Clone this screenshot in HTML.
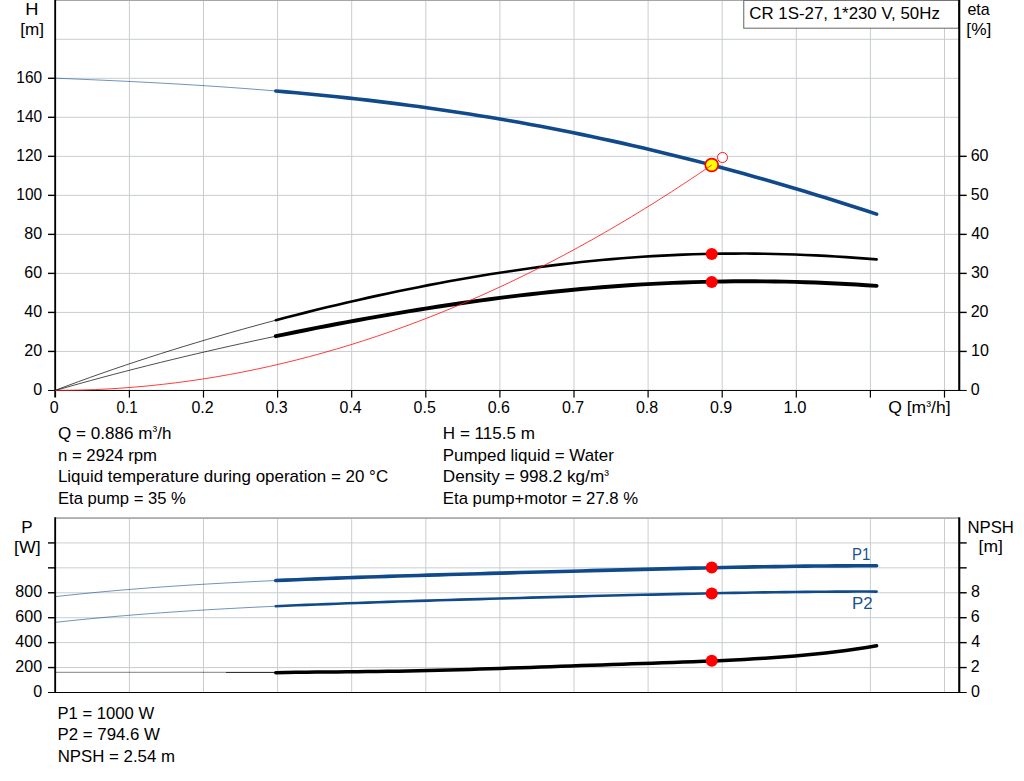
<!DOCTYPE html>
<html><head><meta charset="utf-8"><title>CR 1S-27 pump curve</title>
<style>
html,body{margin:0;padding:0;background:#fff;overflow:hidden}
svg{display:block}
text{font-family:"Liberation Sans",sans-serif;white-space:pre}
</style></head><body>
<svg width="1024" height="781" viewBox="0 0 1024 781" font-family="Liberation Sans, sans-serif" font-size="17" fill="#000">
<rect width="1024" height="781" fill="#fff"/>
<path d="M129.40,1 V390 M203.50,1 V390 M277.60,1 V390 M351.70,1 V390 M425.80,1 V390 M499.90,1 V390 M574.00,1 V390 M648.10,1 V390 M722.20,1 V390 M796.30,1 V390 M870.40,1 V390 M944.50,1 V390" stroke="#c9cdd0" stroke-width="1" fill="none"/>
<path d="M56,351.43 H958.5 M56,312.41 H958.5 M56,273.39 H958.5 M56,234.37 H958.5 M56,195.35 H958.5 M56,156.33 H958.5 M56,117.31 H958.5 M56,78.29 H958.5 M56,39.27 H958.5" stroke="#c9cdd0" stroke-width="1" fill="none"/>
<rect x="55" y="0" width="904" height="0.9" fill="#9c9c9c"/>
<path d="M129.40,519 V692 M203.50,519 V692 M277.60,519 V692 M351.70,519 V692 M425.80,519 V692 M499.90,519 V692 M574.00,519 V692 M648.10,519 V692 M722.20,519 V692 M796.30,519 V692 M870.40,519 V692 M944.50,519 V692" stroke="#c9cdd0" stroke-width="1" fill="none"/>
<path d="M56,667.57 H958.5 M56,642.64 H958.5 M56,617.71 H958.5 M56,592.78 H958.5 M56,567.85 H958.5 M56,542.92 H958.5" stroke="#c9cdd0" stroke-width="1" fill="none"/>
<rect x="55" y="517.3" width="904" height="1.5" fill="#9a9c9e"/>
<path d="M55.20,78.19 L66.90,78.67 L78.60,79.15 L90.30,79.66 L102.00,80.18 L113.70,80.71 L125.40,81.27 L137.10,81.85 L148.80,82.45 L160.50,83.08 L172.20,83.73 L183.90,84.42 L195.60,85.13 L207.30,85.88 L219.00,86.66 L230.70,87.48 L242.40,88.34 L254.10,89.23 L265.80,90.16 L277.50,91.14" stroke="#114a8b" stroke-width="0.6" fill="none"/>
<path d="M275.80,91.00 L285.98,91.87 L296.16,92.79 L306.34,93.73 L316.53,94.71 L326.71,95.73 L336.89,96.78 L347.08,97.87 L357.26,99.00 L367.44,100.16 L377.63,101.36 L387.81,102.61 L397.99,103.89 L408.18,105.22 L418.36,106.58 L428.54,107.99 L438.73,109.44 L448.91,110.93 L459.09,112.47 L469.27,114.05 L479.46,115.67 L489.64,117.33 L499.82,119.05 L510.01,120.80 L520.19,122.60 L530.37,124.45 L540.56,126.34 L550.74,128.28 L560.92,130.26 L571.11,132.29 L581.29,134.37 L591.47,136.49 L601.65,138.66 L611.84,140.87 L622.02,143.13 L632.20,145.44 L642.39,147.79 L652.57,150.19 L662.75,152.63 L672.94,155.13 L683.12,157.66 L693.30,160.24 L703.49,162.87 L713.67,165.54 L723.85,168.26 L734.04,171.02 L744.22,173.82 L754.40,176.67 L764.58,179.56 L774.77,182.50 L784.95,185.48 L795.13,188.50 L805.32,191.56 L815.50,194.66 L825.68,197.80 L835.87,200.99 L846.05,204.21 L856.23,207.47 L866.42,210.77 L876.60,214.11" stroke="#114a8b" stroke-width="3.6" fill="none" stroke-linecap="round"/>
<path d="M55.20,390.34 L66.90,385.92 L78.60,381.60 L90.30,377.37 L102.00,373.22 L113.70,369.16 L125.40,365.18 L137.10,361.28 L148.80,357.46 L160.50,353.70 L172.20,350.02 L183.90,346.40 L195.60,342.86 L207.30,339.37 L219.00,335.95 L230.70,332.60 L242.40,329.30 L254.10,326.07 L265.80,322.89 L277.50,319.78" stroke="#000" stroke-width="0.7" fill="none"/>
<path d="M275.80,320.23 L285.98,317.56 L296.16,314.94 L306.34,312.37 L316.53,309.84 L326.71,307.35 L336.89,304.91 L347.08,302.52 L357.26,300.18 L367.44,297.88 L377.63,295.64 L387.81,293.44 L397.99,291.29 L408.18,289.19 L418.36,287.15 L428.54,285.15 L438.73,283.21 L448.91,281.32 L459.09,279.49 L469.27,277.71 L479.46,275.99 L489.64,274.32 L499.82,272.72 L510.01,271.17 L520.19,269.68 L530.37,268.25 L540.56,266.89 L550.74,265.59 L560.92,264.35 L571.11,263.17 L581.29,262.06 L591.47,261.02 L601.65,260.04 L611.84,259.13 L622.02,258.29 L632.20,257.51 L642.39,256.80 L652.57,256.17 L662.75,255.60 L672.94,255.10 L683.12,254.67 L693.30,254.31 L703.49,254.03 L713.67,253.81 L723.85,253.66 L734.04,253.58 L744.22,253.57 L754.40,253.63 L764.58,253.76 L774.77,253.96 L784.95,254.22 L795.13,254.55 L805.32,254.94 L815.50,255.40 L825.68,255.92 L835.87,256.50 L846.05,257.14 L856.23,257.84 L866.42,258.59 L876.60,259.40" stroke="#000" stroke-width="2.6" fill="none" stroke-linecap="round"/>
<path d="M55.20,390.53 L66.90,387.18 L78.60,383.88 L90.30,380.65 L102.00,377.48 L113.70,374.37 L125.40,371.31 L137.10,368.30 L148.80,365.34 L160.50,362.43 L172.20,359.57 L183.90,356.76 L195.60,353.99 L207.30,351.27 L219.00,348.59 L230.70,345.96 L242.40,343.37 L254.10,340.82 L265.80,338.32 L277.50,335.86" stroke="#000" stroke-width="0.7" fill="none"/>
<path d="M275.80,336.21 L285.98,334.10 L296.16,332.02 L306.34,329.98 L316.53,327.96 L326.71,325.98 L336.89,324.04 L347.08,322.13 L357.26,320.25 L367.44,318.41 L377.63,316.60 L387.81,314.83 L397.99,313.10 L408.18,311.40 L418.36,309.74 L428.54,308.12 L438.73,306.54 L448.91,305.00 L459.09,303.50 L469.27,302.05 L479.46,300.63 L489.64,299.26 L499.82,297.93 L510.01,296.65 L520.19,295.41 L530.37,294.22 L540.56,293.08 L550.74,291.98 L560.92,290.94 L571.11,289.94 L581.29,288.99 L591.47,288.10 L601.65,287.26 L611.84,286.47 L622.02,285.73 L632.20,285.05 L642.39,284.42 L652.57,283.85 L662.75,283.33 L672.94,282.87 L683.12,282.47 L693.30,282.12 L703.49,281.83 L713.67,281.60 L723.85,281.43 L734.04,281.32 L744.22,281.26 L754.40,281.27 L764.58,281.33 L774.77,281.46 L784.95,281.64 L795.13,281.88 L805.32,282.18 L815.50,282.54 L825.68,282.96 L835.87,283.43 L846.05,283.97 L856.23,284.56 L866.42,285.20 L876.60,285.90" stroke="#000" stroke-width="3.9" fill="none" stroke-linecap="round"/>
<path d="M55.20,596.66 L66.90,595.36 L78.60,594.12 L90.30,592.95 L102.00,591.83 L113.70,590.78 L125.40,589.77 L137.10,588.82 L148.80,587.91 L160.50,587.06 L172.20,586.24 L183.90,585.47 L195.60,584.73 L207.30,584.03 L219.00,583.36 L230.70,582.73 L242.40,582.13 L254.10,581.55 L265.80,581.00 L277.50,580.47" stroke="#114a8b" stroke-width="0.6" fill="none"/>
<path d="M275.80,580.55 L285.98,580.11 L296.16,579.68 L306.34,579.27 L316.53,578.87 L326.71,578.48 L336.89,578.11 L347.08,577.75 L357.26,577.39 L367.44,577.05 L377.63,576.71 L387.81,576.39 L397.99,576.07 L408.18,575.75 L418.36,575.44 L428.54,575.14 L438.73,574.84 L448.91,574.54 L459.09,574.25 L469.27,573.96 L479.46,573.68 L489.64,573.39 L499.82,573.11 L510.01,572.83 L520.19,572.56 L530.37,572.28 L540.56,572.01 L550.74,571.74 L560.92,571.47 L571.11,571.20 L581.29,570.93 L591.47,570.66 L601.65,570.40 L611.84,570.14 L622.02,569.88 L632.20,569.62 L642.39,569.37 L652.57,569.12 L662.75,568.88 L672.94,568.63 L683.12,568.40 L693.30,568.17 L703.49,567.94 L713.67,567.72 L723.85,567.51 L734.04,567.30 L744.22,567.11 L754.40,566.92 L764.58,566.75 L774.77,566.58 L784.95,566.43 L795.13,566.29 L805.32,566.17 L815.50,566.06 L825.68,565.97 L835.87,565.89 L846.05,565.84 L856.23,565.80 L866.42,565.79 L876.60,565.79" stroke="#114a8b" stroke-width="3.6" fill="none" stroke-linecap="round"/>
<path d="M55.20,622.36 L66.90,621.09 L78.60,619.87 L90.30,618.72 L102.00,617.62 L113.70,616.57 L125.40,615.58 L137.10,614.63 L148.80,613.72 L160.50,612.86 L172.20,612.04 L183.90,611.26 L195.60,610.51 L207.30,609.80 L219.00,609.12 L230.70,608.47 L242.40,607.85 L254.10,607.26 L265.80,606.69 L277.50,606.15" stroke="#114a8b" stroke-width="0.6" fill="none"/>
<path d="M275.80,606.23 L285.98,605.77 L296.16,605.32 L306.34,604.89 L316.53,604.48 L326.71,604.08 L336.89,603.69 L347.08,603.31 L357.26,602.94 L367.44,602.58 L377.63,602.23 L387.81,601.89 L397.99,601.55 L408.18,601.22 L418.36,600.90 L428.54,600.59 L438.73,600.28 L448.91,599.97 L459.09,599.67 L469.27,599.37 L479.46,599.08 L489.64,598.79 L499.82,598.51 L510.01,598.23 L520.19,597.95 L530.37,597.67 L540.56,597.40 L550.74,597.13 L560.92,596.86 L571.11,596.59 L581.29,596.33 L591.47,596.07 L601.65,595.81 L611.84,595.56 L622.02,595.31 L632.20,595.06 L642.39,594.82 L652.57,594.58 L662.75,594.35 L672.94,594.12 L683.12,593.90 L693.30,593.68 L703.49,593.47 L713.67,593.27 L723.85,593.07 L734.04,592.88 L744.22,592.71 L754.40,592.54 L764.58,592.38 L774.77,592.23 L784.95,592.10 L795.13,591.97 L805.32,591.87 L815.50,591.77 L825.68,591.69 L835.87,591.63 L846.05,591.59 L856.23,591.57 L866.42,591.56 L876.60,591.58" stroke="#114a8b" stroke-width="2.6" fill="none" stroke-linecap="round"/>
<path d="M56,672.3 H226" stroke="#000" stroke-width="0.5" fill="none"/>
<path d="M226,672.4 H277" stroke="#000" stroke-width="0.9" fill="none"/>
<path d="M275.80,672.74 L285.98,672.52 L296.16,672.35 L306.34,672.22 L316.53,672.10 L326.71,672.01 L336.89,671.92 L347.08,671.82 L357.26,671.72 L367.44,671.61 L377.63,671.48 L387.81,671.34 L397.99,671.17 L408.18,670.98 L418.36,670.78 L428.54,670.55 L438.73,670.30 L448.91,670.03 L459.09,669.74 L469.27,669.44 L479.46,669.12 L489.64,668.79 L499.82,668.45 L510.01,668.11 L520.19,667.75 L530.37,667.40 L540.56,667.04 L550.74,666.67 L560.92,666.32 L571.11,665.96 L581.29,665.60 L591.47,665.25 L601.65,664.90 L611.84,664.55 L622.02,664.21 L632.20,663.87 L642.39,663.52 L652.57,663.18 L662.75,662.83 L672.94,662.47 L683.12,662.10 L693.30,661.71 L703.49,661.31 L713.67,660.88 L723.85,660.43 L734.04,659.94 L744.22,659.41 L754.40,658.83 L764.58,658.20 L774.77,657.51 L784.95,656.76 L795.13,655.93 L805.32,655.02 L815.50,654.02 L825.68,652.93 L835.87,651.74 L846.05,650.44 L856.23,649.02 L866.42,647.47 L876.60,645.80" stroke="#000" stroke-width="3.5" fill="none" stroke-linecap="round"/>
<rect x="743.75" y="0.4" width="215" height="27.8" fill="#fff" stroke="#6c6c6c" stroke-width="1.05"/>
<g fill="#000">
<rect x="54.25" y="0" width="1.85" height="390.95"/>
<rect x="958.2" y="0" width="2.1" height="390.95"/>
<rect x="48" y="389.95" width="918.70" height="1"/>
<rect x="48" y="350.73" width="7" height="1.4"/>
<rect x="48" y="311.71" width="7" height="1.4"/>
<rect x="48" y="272.69" width="7" height="1.4"/>
<rect x="48" y="233.67" width="7" height="1.4"/>
<rect x="48" y="194.65" width="7" height="1.4"/>
<rect x="48" y="155.63" width="7" height="1.4"/>
<rect x="48" y="116.61" width="7" height="1.4"/>
<rect x="48" y="77.59" width="7" height="1.4"/>
<rect x="959.8000000000001" y="350.73" width="6.9" height="1.4"/>
<rect x="959.8000000000001" y="311.71" width="6.9" height="1.4"/>
<rect x="959.8000000000001" y="272.69" width="6.9" height="1.4"/>
<rect x="959.8000000000001" y="233.67" width="6.9" height="1.4"/>
<rect x="959.8000000000001" y="194.65" width="6.9" height="1.4"/>
<rect x="959.8000000000001" y="155.63" width="6.9" height="1.4"/>
<rect x="54.25" y="390.5" width="1.85" height="7"/>
<rect x="128.80" y="390.5" width="1.2" height="7.1"/>
<rect x="202.90" y="390.5" width="1.2" height="7.1"/>
<rect x="277.00" y="390.5" width="1.2" height="7.1"/>
<rect x="351.10" y="390.5" width="1.2" height="7.1"/>
<rect x="425.20" y="390.5" width="1.2" height="7.1"/>
<rect x="499.30" y="390.5" width="1.2" height="7.1"/>
<rect x="573.40" y="390.5" width="1.2" height="7.1"/>
<rect x="647.50" y="390.5" width="1.2" height="7.1"/>
<rect x="721.60" y="390.5" width="1.2" height="7.1"/>
<rect x="795.70" y="390.5" width="1.2" height="7.1"/>
<rect x="869.80" y="390.5" width="1.2" height="7.1"/>
<rect x="943.90" y="390.5" width="1.2" height="7.1"/>
</g>
<g fill="#000">
<rect x="54.25" y="517.3" width="1.85" height="175.7"/>
<rect x="958.2" y="517.3" width="2.1" height="175.7"/>
<rect x="48" y="692.00" width="918.70" height="1"/>
<rect x="48" y="666.87" width="7" height="1.4"/>
<rect x="48" y="641.94" width="7" height="1.4"/>
<rect x="48" y="617.01" width="7" height="1.4"/>
<rect x="48" y="592.08" width="7" height="1.4"/>
<rect x="48" y="567.15" width="7" height="1.4"/>
<rect x="48" y="542.22" width="7" height="1.4"/>
<rect x="959.8000000000001" y="666.87" width="6.9" height="1.4"/>
<rect x="959.8000000000001" y="641.94" width="6.9" height="1.4"/>
<rect x="959.8000000000001" y="617.01" width="6.9" height="1.4"/>
<rect x="959.8000000000001" y="592.08" width="6.9" height="1.4"/>
<rect x="959.8000000000001" y="567.15" width="6.9" height="1.4"/>
<rect x="959.8000000000001" y="542.22" width="6.9" height="1.4"/>
</g>
<circle cx="722.5" cy="157.5" r="5" fill="#fff" stroke="#ff0808" stroke-width="0.95"/>
<circle cx="711.73" cy="165" r="6.45" fill="#ffff00" stroke="#ff0000" stroke-width="1.7"/>
<path d="M55.20,390.40 L68.60,390.31 L82.00,390.02 L95.40,389.56 L108.79,388.90 L122.19,388.05 L135.59,387.02 L148.99,385.80 L162.39,384.39 L175.79,382.80 L189.18,381.01 L202.58,379.04 L215.98,376.88 L229.38,374.54 L242.78,372.00 L256.18,369.28 L269.58,366.37 L282.97,363.27 L296.37,359.98 L309.77,356.51 L323.17,352.85 L336.57,349.00 L349.97,344.97 L363.37,340.74 L376.76,336.33 L390.16,331.73 L403.56,326.94 L416.96,321.97 L430.36,316.80 L443.76,311.45 L457.15,305.91 L470.55,300.19 L483.95,294.27 L497.35,288.17 L510.75,281.88 L524.15,275.40 L537.55,268.74 L550.94,261.89 L564.34,254.85 L577.74,247.62 L591.14,240.20 L604.54,232.60 L617.94,224.81 L631.34,216.83 L644.73,208.66 L658.13,200.31 L671.53,191.76 L684.93,183.03 L698.33,174.11 L711.73,165.01" stroke="#ff1a1a" stroke-width="0.85" fill="none"/>
<circle cx="711.73" cy="254" r="6" fill="#ff0000"/>
<circle cx="711.73" cy="282" r="6" fill="#ff0000"/>
<circle cx="711.73" cy="567.6" r="6" fill="#ff0000"/>
<circle cx="711.73" cy="593.4" r="6" fill="#ff0000"/>
<circle cx="711.73" cy="660.75" r="6" fill="#ff0000"/>
<text x="749.35" y="19" textLength="190.48" lengthAdjust="spacingAndGlyphs">CR 1S-27, 1*230 V, 50Hz</text>
<text x="25.20" y="15" textLength="13.19" lengthAdjust="spacingAndGlyphs">H</text>
<text x="20.33" y="35" textLength="23.68" lengthAdjust="spacingAndGlyphs">[m]</text>
<text x="33.19" y="395.1" textLength="8.93" lengthAdjust="spacingAndGlyphs">0</text>
<text x="24.26" y="356.1" textLength="17.87" lengthAdjust="spacingAndGlyphs">20</text>
<text x="24.26" y="317.1" textLength="17.87" lengthAdjust="spacingAndGlyphs">40</text>
<text x="24.26" y="278.1" textLength="17.87" lengthAdjust="spacingAndGlyphs">60</text>
<text x="24.26" y="239.1" textLength="17.87" lengthAdjust="spacingAndGlyphs">80</text>
<text x="16.37" y="200.0" textLength="25.73" lengthAdjust="spacingAndGlyphs">100</text>
<text x="16.37" y="161.0" textLength="25.73" lengthAdjust="spacingAndGlyphs">120</text>
<text x="16.37" y="122.0" textLength="25.73" lengthAdjust="spacingAndGlyphs">140</text>
<text x="16.37" y="83.0" textLength="25.73" lengthAdjust="spacingAndGlyphs">160</text>
<text x="967.42" y="15" textLength="22.38" lengthAdjust="spacingAndGlyphs">eta</text>
<text x="966.37" y="35" textLength="24.96" lengthAdjust="spacingAndGlyphs">[%]</text>
<text x="970.87" y="395.1" textLength="8.93" lengthAdjust="spacingAndGlyphs">0</text>
<text x="970.98" y="356.1" textLength="17.87" lengthAdjust="spacingAndGlyphs">10</text>
<text x="970.69" y="317.1" textLength="17.87" lengthAdjust="spacingAndGlyphs">20</text>
<text x="970.89" y="278.1" textLength="17.87" lengthAdjust="spacingAndGlyphs">30</text>
<text x="971.13" y="239.1" textLength="17.87" lengthAdjust="spacingAndGlyphs">40</text>
<text x="970.86" y="200.0" textLength="17.87" lengthAdjust="spacingAndGlyphs">50</text>
<text x="970.68" y="161.0" textLength="17.87" lengthAdjust="spacingAndGlyphs">60</text>
<text x="49.76" y="413" textLength="8.89" lengthAdjust="spacingAndGlyphs">0</text>
<text x="116.51" y="413" textLength="21.14" lengthAdjust="spacingAndGlyphs">0.1</text>
<text x="191.38" y="413" textLength="22.21" lengthAdjust="spacingAndGlyphs">0.2</text>
<text x="265.43" y="413" textLength="22.21" lengthAdjust="spacingAndGlyphs">0.3</text>
<text x="339.41" y="413" textLength="22.21" lengthAdjust="spacingAndGlyphs">0.4</text>
<text x="413.62" y="413" textLength="22.21" lengthAdjust="spacingAndGlyphs">0.5</text>
<text x="487.73" y="413" textLength="22.21" lengthAdjust="spacingAndGlyphs">0.6</text>
<text x="561.88" y="413" textLength="22.21" lengthAdjust="spacingAndGlyphs">0.7</text>
<text x="635.93" y="413" textLength="22.21" lengthAdjust="spacingAndGlyphs">0.8</text>
<text x="710.06" y="413" textLength="22.21" lengthAdjust="spacingAndGlyphs">0.9</text>
<text x="783.54" y="413" textLength="23.01" lengthAdjust="spacingAndGlyphs">1.0</text>
<text x="888.17" y="413" textLength="62.38" lengthAdjust="spacingAndGlyphs">Q [m<tspan font-size="14.0" dy="-2.25">³</tspan><tspan dy="2.25">/h]</tspan></text>
<text x="58.09" y="438.5" textLength="113.32" lengthAdjust="spacingAndGlyphs">Q = 0.886 m<tspan font-size="14.0" dy="-2.25">³</tspan><tspan dy="2.25">/h</tspan></text>
<text x="57.94" y="460.5" textLength="99.12" lengthAdjust="spacingAndGlyphs">n = 2924 rpm</text>
<text x="57.91" y="482" textLength="330.23" lengthAdjust="spacingAndGlyphs">Liquid temperature during operation = 20 °C</text>
<text x="57.94" y="504.3" textLength="127.96" lengthAdjust="spacingAndGlyphs">Eta pump = 35 %</text>
<text x="442.82" y="438.5" textLength="92.19" lengthAdjust="spacingAndGlyphs">H = 115.5 m</text>
<text x="442.82" y="460.5" textLength="171.06" lengthAdjust="spacingAndGlyphs">Pumped liquid = Water</text>
<text x="442.79" y="482" textLength="166.08" lengthAdjust="spacingAndGlyphs">Density = 998.2 kg/m<tspan font-size="14.0" dy="-2.25">³</tspan></text>
<text x="442.83" y="504.3" textLength="195.37" lengthAdjust="spacingAndGlyphs">Eta pump+motor = 27.8 %</text>
<text x="21.30" y="532.7" textLength="11.40" lengthAdjust="spacingAndGlyphs">P</text>
<text x="14.14" y="552.7" textLength="26.52" lengthAdjust="spacingAndGlyphs">[W]</text>
<text x="33.19" y="697.0" textLength="8.93" lengthAdjust="spacingAndGlyphs">0</text>
<text x="15.32" y="672.1" textLength="26.80" lengthAdjust="spacingAndGlyphs">200</text>
<text x="15.32" y="647.1" textLength="26.80" lengthAdjust="spacingAndGlyphs">400</text>
<text x="15.32" y="622.2" textLength="26.80" lengthAdjust="spacingAndGlyphs">600</text>
<text x="15.32" y="597.3" textLength="26.80" lengthAdjust="spacingAndGlyphs">800</text>
<text x="967.43" y="532.7" textLength="46.43" lengthAdjust="spacingAndGlyphs">NPSH</text>
<text x="978.55" y="552.3" textLength="24.29" lengthAdjust="spacingAndGlyphs">[m]</text>
<text x="970.97" y="697.0" textLength="8.93" lengthAdjust="spacingAndGlyphs">0</text>
<text x="970.79" y="672.1" textLength="8.93" lengthAdjust="spacingAndGlyphs">2</text>
<text x="971.23" y="647.1" textLength="8.93" lengthAdjust="spacingAndGlyphs">4</text>
<text x="970.78" y="622.2" textLength="8.93" lengthAdjust="spacingAndGlyphs">6</text>
<text x="970.90" y="597.3" textLength="8.93" lengthAdjust="spacingAndGlyphs">8</text>
<text x="852.08" y="560" textLength="18.25" lengthAdjust="spacingAndGlyphs" fill="#1a5290">P1</text>
<text x="851.92" y="609" textLength="20.63" lengthAdjust="spacingAndGlyphs" fill="#1a5290">P2</text>
<text x="57.54" y="719" textLength="96.62" lengthAdjust="spacingAndGlyphs">P1 = 1000 W</text>
<text x="57.52" y="740" textLength="102.44" lengthAdjust="spacingAndGlyphs">P2 = 794.6 W</text>
<text x="57.72" y="762" textLength="117.29" lengthAdjust="spacingAndGlyphs">NPSH = 2.54 m</text>
</svg>
</body></html>
